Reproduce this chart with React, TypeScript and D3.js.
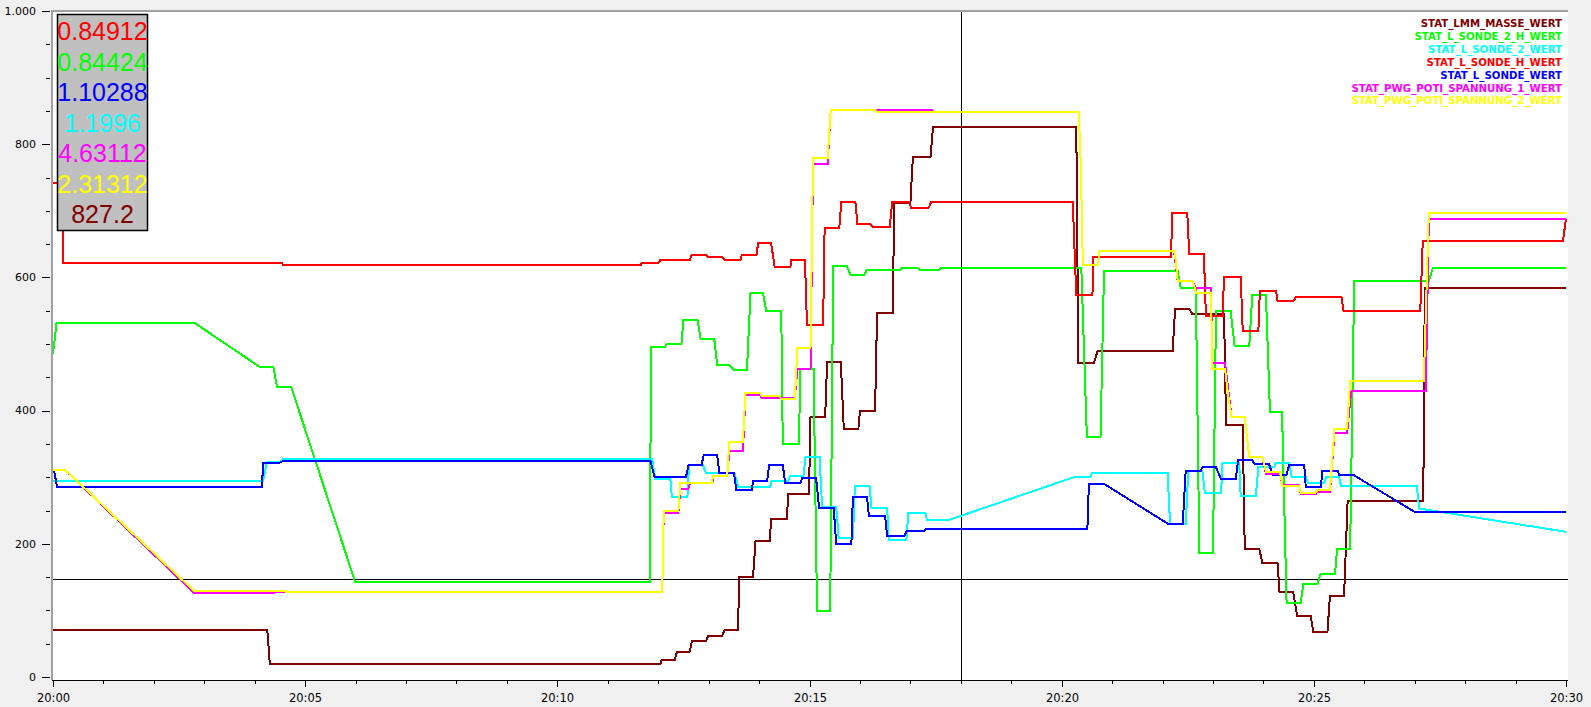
import React, { useRef, useEffect } from 'react';
import * as d3 from 'd3';

// time in minutes after 20:00, value
type Pt = [number, number];

const seriesNames = [
    'STAT_LMM_MASSE_WERT',
    'STAT_L_SONDE_2_H_WERT',
    'STAT_L_SONDE_2_WERT',
    'STAT_L_SONDE_H_WERT',
    'STAT_L_SONDE_WERT',
    'STAT_PWG_POTI_SPANNUNG_1_WERT',
    'STAT_PWG_POTI_SPANNUNG_2_WERT',
];
const seriesColors = ['#800000', '#00ff00', '#00ffff', '#ff0000', '#0000ff', '#ff00ff', '#ffff00'];

const lmmMasse: Pt[] = [
    [0, 70], [4.25, 70], [4.3, 19], [12.04, 19], [12.07, 26], [12.33, 26], [12.37, 37], [12.62, 37],
    [12.67, 54], [12.95, 54], [12.99, 62], [13.27, 62], [13.31, 70], [13.58, 70], [13.61, 150], [13.88, 150],
    [13.93, 204], [14.21, 204], [14.24, 237], [14.55, 237], [14.58, 275], [14.99, 275], [15.02, 390], [15.31, 390],
    [15.35, 473], [15.62, 473], [15.68, 373], [15.97, 373], [16.0, 400], [16.3, 400], [16.34, 546], [16.65, 546],
    [16.68, 711], [17.0, 711], [17.05, 781], [17.4, 781], [17.45, 826], [20.29, 826], [20.33, 471], [20.64, 471],
    [20.71, 489], [22.2, 489], [22.25, 553], [22.53, 553], [22.59, 545], [23.22, 545], [23.26, 378], [23.59, 378],
    [23.63, 192], [23.92, 192], [23.98, 171], [24.28, 171], [24.32, 128], [24.59, 128], [24.67, 91], [24.94, 91],
    [24.99, 68], [25.27, 68], [25.32, 122], [25.6, 122], [25.67, 264], [27.17, 264], [27.2, 584], [30, 584],
];

const lSonde2H: Pt[] = [
    [0, 485], [0.07, 532], [2.8, 532], [4.11, 465], [4.37, 465], [4.44, 436], [4.72, 436], [5.99, 143],
    [11.83, 143], [11.86, 496], [12.14, 496], [12.17, 500], [12.46, 500], [12.5, 536], [12.78, 536], [12.84, 508],
    [13.11, 508], [13.17, 469], [13.4, 469], [13.5, 461], [13.76, 461], [13.83, 576], [14.08, 576], [14.14, 550],
    [14.44, 550], [14.47, 350], [14.79, 350], [14.82, 463], [15.08, 463], [15.15, 99], [15.41, 99], [15.47, 617],
    [15.74, 617], [15.81, 604], [16.08, 604], [16.14, 611], [16.8, 611], [16.83, 614], [17.14, 614], [17.2, 611],
    [17.57, 611], [17.6, 614], [20.39, 614], [20.5, 360], [20.77, 360], [20.84, 609], [22.3, 609], [22.36, 584],
    [22.66, 584], [22.73, 186], [23.0, 186], [23.06, 549], [23.35, 549], [23.43, 497], [23.72, 497], [23.78, 574],
    [24.05, 574], [24.13, 398], [24.37, 398], [24.46, 111], [24.74, 111], [24.79, 139], [25.07, 139], [25.13, 154],
    [25.42, 154], [25.46, 192], [25.72, 192], [25.8, 595], [27.28, 595], [27.36, 614], [30, 614],
];

const lSonde2: Pt[] = [
    [0, 295], [4.17, 295], [4.24, 323], [4.5, 323], [4.55, 327], [11.88, 327], [11.94, 298], [12.24, 298],
    [12.27, 271], [12.58, 271], [12.61, 318], [12.89, 318], [12.94, 307], [13.51, 307], [13.59, 285], [14.22, 285],
    [14.25, 295], [14.58, 295], [14.61, 302], [14.88, 302], [14.92, 330], [15.2, 330], [15.25, 255], [15.53, 255],
    [15.58, 208], [15.86, 208], [15.9, 287], [16.19, 287], [16.23, 254], [16.54, 254], [16.57, 205], [16.92, 205],
    [16.96, 246], [17.3, 246], [17.33, 235], [17.73, 235], [20.24, 300], [20.57, 300], [20.6, 307], [22.1, 307],
    [22.15, 229], [22.46, 229], [22.51, 310], [22.79, 310], [22.84, 276], [23.16, 276], [23.19, 322], [23.52, 322],
    [23.55, 272], [23.85, 272], [23.9, 315], [24.21, 315], [24.25, 322], [24.51, 322], [24.56, 301], [24.84, 301],
    [24.88, 291], [25.2, 291], [25.24, 300], [25.5, 300], [25.54, 287], [27.04, 287], [27.09, 253], [30, 218],
];

const lSondeH: Pt[] = [
    [0, 741], [0.19, 741], [0.2, 622], [4.54, 622], [4.56, 618], [11.65, 618], [11.67, 622], [12.01, 622],
    [12.04, 626], [12.63, 626], [12.66, 634], [12.94, 634], [12.98, 631], [13.27, 631], [13.32, 626], [13.63, 626],
    [13.66, 634], [13.95, 634], [13.98, 651], [14.24, 651], [14.31, 615], [14.62, 615], [14.64, 626], [14.91, 626],
    [14.95, 529], [15.27, 529], [15.3, 674], [15.59, 674], [15.63, 713], [15.91, 713], [15.95, 680], [16.2, 680],
    [16.27, 675], [16.59, 675], [16.64, 713], [16.97, 713], [17.02, 704], [17.36, 704], [17.41, 713], [20.22, 713],
    [20.29, 573], [20.61, 573], [20.63, 630], [22.17, 630], [22.19, 697], [22.49, 697], [22.53, 635], [22.82, 635],
    [22.86, 542], [23.19, 542], [23.22, 601], [23.55, 601], [23.59, 520], [23.9, 520], [23.93, 580], [24.25, 580],
    [24.28, 564], [24.59, 564], [24.64, 570], [25.55, 570], [25.59, 549], [27.11, 549], [27.16, 655], [29.94, 655],
    [30, 688],
];

const lSonde: Pt[] = [
    [0.02, 310], [0.08, 286], [4.14, 286], [4.17, 321], [4.47, 321], [4.55, 324], [11.85, 324], [11.93, 300],
    [12.55, 300], [12.6, 318], [12.86, 318], [12.9, 333], [13.17, 333], [13.21, 307], [13.5, 307], [13.55, 281],
    [13.86, 281], [13.88, 295], [14.16, 295], [14.2, 318], [14.47, 318], [14.52, 291], [14.82, 291], [14.86, 299],
    [15.13, 299], [15.19, 254], [15.48, 254], [15.53, 199], [15.83, 199], [15.86, 270], [16.14, 270], [16.18, 241],
    [16.5, 241], [16.54, 211], [16.87, 211], [16.93, 219], [17.27, 219], [17.3, 222], [20.51, 222], [20.54, 290],
    [20.84, 290], [22.13, 229], [22.4, 229], [22.46, 310], [22.76, 310], [22.79, 315], [23.06, 315], [23.16, 297],
    [23.45, 297], [23.5, 326], [23.78, 326], [23.82, 320], [24.11, 320], [24.18, 304], [24.46, 304], [24.51, 318],
    [24.81, 318], [24.84, 285], [25.14, 285], [25.17, 310], [25.47, 310], [25.5, 304], [25.77, 304], [27.02, 247],
    [30, 247],
];

const pwgPoti1: Pt[] = [
    [0, 311], [0.24, 311], [2.8, 126], [4.37, 126], [4.4, 127], [12.08, 127], [12.11, 246], [12.4, 246],
    [12.44, 283], [12.6, 283], [12.63, 291], [13.07, 291], [13.1, 302], [13.37, 302], [13.41, 339], [13.68, 339],
    [13.73, 423], [14.02, 423], [14.05, 419], [14.71, 419], [14.76, 463], [15.02, 463], [15.07, 770], [15.36, 770],
    [15.42, 852], [17.43, 852], [17.46, 848], [20.34, 848], [20.38, 767], [20.42, 618], [20.71, 618], [20.75, 639],
    [22.23, 639], [22.3, 595], [22.59, 595], [22.66, 584], [22.96, 584], [22.99, 471], [23.24, 471], [23.37, 390],
    [23.63, 390], [23.72, 330], [23.98, 330], [24.05, 305], [24.33, 305], [24.38, 288], [24.71, 288], [24.74, 275],
    [25.04, 275], [25.07, 278], [25.32, 278], [25.41, 367], [25.66, 367], [25.74, 429], [27.22, 429], [27.28, 687],
    [30, 687],
];

const pwgPoti2: Pt[] = [
    [0, 311], [0.24, 311], [2.8, 129], [4.6, 129], [4.63, 127], [12.08, 127], [12.11, 249], [12.4, 249],
    [12.44, 291], [13.06, 291], [13.09, 302], [13.37, 302], [13.41, 353], [13.68, 353], [13.73, 426], [14.02, 426],
    [14.05, 422], [14.4, 422], [14.43, 418], [14.71, 418], [14.76, 494], [15.02, 494], [15.07, 779], [15.36, 779],
    [15.42, 851], [16.3, 851], [16.34, 848], [20.34, 848], [20.38, 767], [20.42, 618], [20.71, 618], [20.75, 640],
    [22.23, 640], [22.26, 626], [22.3, 595], [22.59, 595], [22.63, 587], [22.66, 577], [22.96, 577], [22.99, 463],
    [23.24, 463], [23.29, 429], [23.37, 390], [23.63, 390], [23.72, 330], [23.98, 330], [24.05, 308], [24.33, 308],
    [24.38, 287], [24.71, 287], [24.74, 277], [25.04, 277], [25.07, 281], [25.32, 281], [25.34, 300], [25.41, 373],
    [25.66, 373], [25.72, 444], [27.18, 444], [27.28, 696], [30, 696],
];

const allSeries = [lmmMasse, lSonde2H, lSonde2, lSondeH, lSonde, pwgPoti1, pwgPoti2];

// cursor readout box (text + colour)
const cursorValues = ['0.84912', '0.84424', '1.10288', '1.1996', '4.63112', '2.31312', '827.2'];
const cursorColors = ['#ff0000', '#00ff00', '#0000ff', '#00ffff', '#ff00ff', '#ffff00', '#800000'];
const cursorTime = 18.0;
const cursorLevel = 147;

const yTickLabels = [0, 200, 400, 600, 800, 1000];

const t0 = new Date(2020, 0, 1, 20, 0, 0);
const toDate = (m: number) => new Date(t0.getTime() + m * 60000);

const App: React.FC = () => {
    const svgRef = useRef<SVGSVGElement>(null);

    useEffect(() => {
        const W = 1591, H = 707;
        const left = 52, right = 1568, top = 10, bottom = 680;

        const x = d3.scaleTime().domain([toDate(0), toDate(30)]).range([left + 1, right - 2]);
        const y = d3.scaleLinear().domain([0, 1000]).range([bottom - 3, top + 1]);

        const svg = d3.select(svgRef.current);
        svg.selectAll('*').remove();

        svg.append('rect').attr('width', W).attr('height', H).attr('fill', '#f0f0f0');
        svg.append('rect').attr('x', left).attr('y', top).attr('width', right - left).attr('height', bottom - top).attr('fill', '#ffffff');

        svg.append('clipPath').attr('id', 'plotclip')
            .append('rect').attr('x', left + 1).attr('y', top + 1).attr('width', right - left - 1).attr('height', bottom - top - 1);

        // Crosshair
        svg.append('line')
            .attr('x1', Math.round(x(toDate(cursorTime))) + 0.5).attr('x2', Math.round(x(toDate(cursorTime))) + 0.5)
            .attr('y1', top).attr('y2', bottom).attr('stroke', '#000').attr('stroke-width', 1);
        svg.append('line')
            .attr('x1', left).attr('x2', right)
            .attr('y1', Math.round(y(cursorLevel)) + 0.5).attr('y2', Math.round(y(cursorLevel)) + 0.5)
            .attr('stroke', '#000').attr('stroke-width', 1);

        const line = d3.line<Pt>()
            .x(d => x(toDate(d[0])))
            .y(d => y(d[1]));

        const g = svg.append('g').attr('clip-path', 'url(#plotclip)');
        allSeries.forEach((s, i) => {
            g.append('path')
                .datum(s)
                .attr('fill', 'none')
                .attr('stroke', seriesColors[i])
                .attr('stroke-width', 2)
                .attr('shape-rendering', 'crispEdges')
                .attr('d', line);
        });

        // Frame
        svg.append('line').attr('x1', left).attr('x2', right).attr('y1', top + 1).attr('y2', top + 1)
            .attr('stroke', '#a0a0a0').attr('stroke-width', 2);
        svg.append('line').attr('x1', left).attr('x2', left).attr('y1', top).attr('y2', bottom)
            .attr('stroke', '#a0a0a0').attr('stroke-width', 2);

        // X axis
        const xAxis = svg.append('g').attr('transform', `translate(0,${bottom})`);
        xAxis.append('line').attr('x1', left).attr('x2', right).attr('y1', 0.5).attr('y2', 0.5).attr('stroke', '#000');
        const minuteTicks = x.ticks(d3.timeMinute.every(1)!);
        minuteTicks.forEach(t => {
            const major = t.getMinutes() % 5 === 0;
            const px = Math.round(x(t)) + 0.5;
            xAxis.append('line').attr('x1', px).attr('x2', px).attr('y1', 0).attr('y2', major ? 7 : 4).attr('stroke', '#000');
            if (major) {
                xAxis.append('text')
                    .attr('x', px).attr('y', 22)
                    .attr('text-anchor', 'middle')
                    .attr('font-family', 'DejaVu Sans')
                    .attr('font-size', '11.5px')
                    .attr('fill', '#000')
                    .text(d3.timeFormat('%H:%M')(t));
            }
        });

        // Y axis
        const yAxis = svg.append('g');
        d3.range(0, 1001, 50).forEach(v => {
            const py = Math.round(y(v)) + 0.5;
            const major = v % 200 === 0;
            yAxis.append('line').attr('x1', major ? 42 : 46).attr('x2', 50).attr('y1', py).attr('y2', py).attr('stroke', '#000');
        });
        yTickLabels.forEach(v => {
            yAxis.append('text')
                .attr('x', 36).attr('y', y(v)).attr('dy', '0.35em')
                .attr('text-anchor', 'end')
                .attr('font-family', 'DejaVu Sans')
                .attr('font-size', '11px')
                .attr('fill', '#000')
                .text(d3.format(',')(v).replace(/,/g, '.'));
        });

        // Legend (right)
        seriesNames.forEach((n, i) => {
            svg.append('text')
                .attr('x', 1562).attr('y', 27 + i * 12.9)
                .attr('text-anchor', 'end')
                .attr('font-family', 'DejaVu Sans')
                .attr('font-weight', 'bold')
                .attr('font-size', '10.2px')
                .attr('fill', seriesColors[i])
                .text(n);
        });

        // Cursor readout box
        svg.append('rect').attr('x', 57.5).attr('y', 14.5).attr('width', 90).attr('height', 216)
            .attr('fill', '#c0c0c0').attr('stroke', '#000').attr('stroke-width', 1.5);
        cursorValues.forEach((v, i) => {
            svg.append('text')
                .attr('x', 102.5).attr('y', 31 + i * 30.5).attr('dy', '0.36em')
                .attr('text-anchor', 'middle')
                .attr('font-family', 'Liberation Sans')
                .attr('font-size', '25px')
                .attr('fill', cursorColors[i])
                .text(v);
        });
    }, []);

    return (
        <svg ref={svgRef} width={1591} height={707} style={{ position: 'absolute', left: 0, top: 0, display: 'block' }} />
    );
};

export default App;
